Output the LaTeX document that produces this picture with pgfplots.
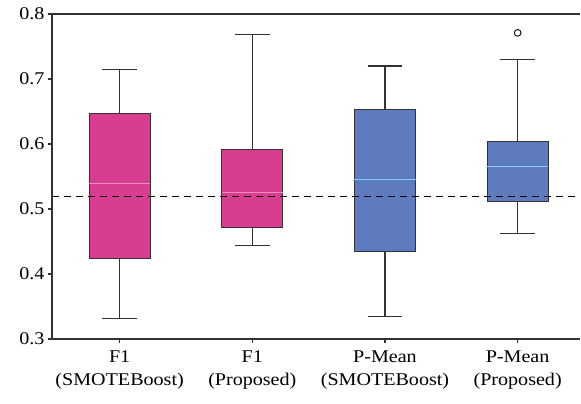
\documentclass[border=0pt]{standalone}
\usepackage{pgfplots}
\pgfplotsset{compat=1.18}
\usepgfplotslibrary{statistics}
\usepackage{fontspec}
\setmainfont{Liberation Serif}
\newfontfamily\widefont[FakeStretch=1.12]{Liberation Serif}
\definecolor{pinkbox}{HTML}{D93D8F}
\definecolor{pinkmed}{HTML}{F28DBB}
\definecolor{bluebox}{HTML}{5F7BC0}
\definecolor{bluemed}{HTML}{80CCF2}
\definecolor{edge}{HTML}{333333}
\begin{document}
\begin{tikzpicture}
\begin{axis}[
  scale only axis,
  width=528bp, height=325bp,
  xmin=0.49, xmax=4.47,
  ymin=0.3, ymax=0.8,
  axis x line=bottom,
  axis y line=left,
  axis line style={-, draw=edge, line width=1.1pt},
  tick align=outside,
  tick style={draw=edge, line width=1.1pt},
  major tick length=4bp,
  xtick={1,2,3,4},
  xticklabels={{F1\\(SMOTEBoost)},{F1\\(Proposed)},{P-Mean\\(SMOTEBoost)},{P-Mean\\(Proposed)}},
  x tick label style={align=center, font=\widefont\fontsize{18}{23}\selectfont, yshift=-4bp},
  ytick={0.3,0.4,...,0.8},
  yticklabel style={font=\widefont\fontsize{18}{20}\selectfont},
  /pgf/number format/assume math mode=true,
  /pgf/number format/fixed,
  /pgf/number format/precision=1,
  /pgf/number format/fixed zerofill,
  boxplot/draw direction=y,
  boxplot/box extend=0.46,
  boxplot/whisker extend=0.26,
  clip=false,
]
\addplot[draw=edge, fill=pinkbox, line width=1.1pt,
  boxplot prepared={draw position=1, lower whisker=0.332, lower quartile=0.424, median=0.539, upper quartile=0.647, upper whisker=0.714,
  every median/.style={draw=pinkmed, line width=1.1pt}}] coordinates {};
\addplot[draw=edge, fill=pinkbox, line width=1.1pt,
  boxplot prepared={draw position=2, lower whisker=0.444, lower quartile=0.471, median=0.526, upper quartile=0.592, upper whisker=0.769,
  every median/.style={draw=pinkmed, line width=1.1pt}}] coordinates {};
\addplot[draw=edge, fill=bluebox, line width=1.1pt,
  boxplot prepared={draw position=3, lower whisker=0.334, lower quartile=0.435, median=0.545, upper quartile=0.653, upper whisker=0.720,
  every median/.style={draw=bluemed, line width=1.1pt}}] coordinates {};
\addplot[draw=edge, fill=bluebox, line width=1.1pt, mark=o, mark size=3.4pt, mark options={draw=black, fill=white, line width=0.9pt},
  boxplot prepared={draw position=4, lower whisker=0.463, lower quartile=0.512, median=0.566, upper quartile=0.604, upper whisker=0.730,
  every median/.style={draw=bluemed, line width=1.1pt}}] coordinates {(0,0.771)};
\addplot[black, line width=1.1pt, dash pattern=on 7bp off 5bp, no marks] coordinates {(0.49,0.519) (4.47,0.519)};
\draw[edge, line width=1.1pt] (rel axis cs:0,1) -- (rel axis cs:1,1);
\end{axis}
\path ([shift={(-52bp,-65bp)}]current axis.south west) rectangle ([shift={(1bp,14bp)}]current axis.north east);
\end{tikzpicture}
\end{document}
